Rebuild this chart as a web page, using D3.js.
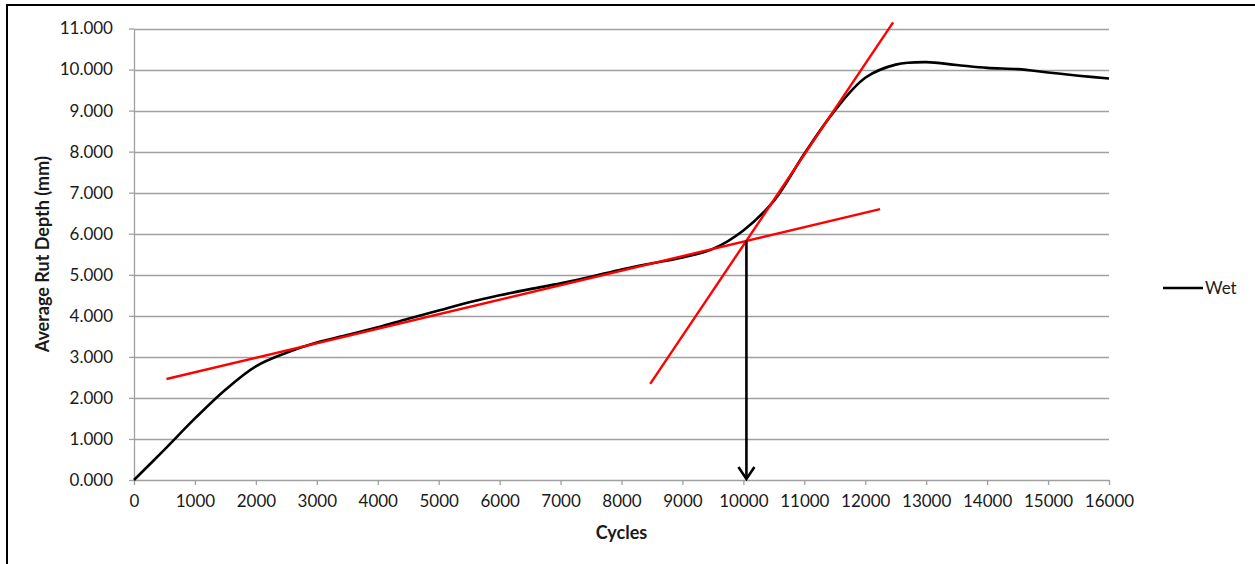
<!DOCTYPE html>
<html>
<head>
<meta charset="utf-8">
<script src="https://cdn.jsdelivr.net/npm/d3@7"></script>
<style>
  html, body { margin: 0; padding: 0; background: #fff; }
  svg { display: block; }
  text { font-family: Lato, "Open Sans", sans-serif; fill: #1a1a1a; }
</style>
</head>
<body>
<svg id="chart" width="1255" height="564"></svg>
<script>
// Rut depth measurements (wet test)
const cycles = [0, 500, 1000, 1500, 2000, 2500, 3000, 3500, 4000, 4500, 5000, 5500, 6000, 6500,
                7000, 7500, 8000, 8500, 9000, 9500, 10000, 10500, 11000, 11500, 12000, 12500,
                13000, 13500, 14000, 14500, 15000, 15500, 16000];
const depth  = [0, 0.74, 1.50, 2.20, 2.77, 3.10, 3.35, 3.53, 3.72, 3.93, 4.13, 4.33, 4.50, 4.65,
                4.79, 4.95, 5.13, 5.28, 5.42, 5.63, 6.08, 6.80, 7.95, 9.00, 9.80, 10.12,
                10.18, 10.11, 10.04, 10.01, 9.93, 9.85, 9.78];

// Tangent lines (secondary and tertiary phase), as [cycles, depth] end points
const tangentSecondary = [[533, 2.46], [12244, 6.60]];
const tangentTertiary  = [[8471, 2.34], [12457, 11.15]];

// Flow number marker: intersection of the tangents projected down to the axis
const flowArrow = [[10050, 5.83], [10050, 0]];

// Axis ticks
const xTicks = [0, 1000, 2000, 3000, 4000, 5000, 6000, 7000, 8000, 9000, 10000,
                11000, 12000, 13000, 14000, 15000, 16000];
const yTicks = [0, 1, 2, 3, 4, 5, 6, 7, 8, 9, 10, 11];

const seriesName = "Wet";
const xTitle = "Cycles";
const yTitle = "Average Rut Depth (mm)";

const svg = d3.select("#chart");
const gridColor = "#a0a0a0";

const x = d3.scaleLinear().domain([0, 16000]).range([134, 1109]);
const y = d3.scaleLinear().domain([0, 11]).range([480, 28.5]);

// Outer frame lines
svg.append("line").attr("x1", 7).attr("x2", 1255).attr("y1", 5).attr("y2", 5)
  .attr("stroke", "#000").attr("stroke-width", 2);
svg.append("line").attr("x1", 7).attr("x2", 7).attr("y1", 4).attr("y2", 564)
  .attr("stroke", "#000").attr("stroke-width", 2);

// Horizontal gridlines
svg.append("g")
  .selectAll("line")
  .data(yTicks.filter(d => d > 0))
  .join("line")
  .attr("x1", x(0)).attr("x2", x(16000))
  .attr("y1", d => Math.round(y(d)) + 0.5).attr("y2", d => Math.round(y(d)) + 0.5)
  .attr("stroke", gridColor).attr("stroke-width", 1.3);

// Y axis
const yAxis = svg.append("g")
  .attr("transform", `translate(${x(0)},0)`)
  .call(d3.axisLeft(y).tickValues(yTicks).tickFormat(d3.format(".3f"))
        .tickSize(5).tickSizeOuter(0).tickPadding(16));

// X axis
const xAxis = svg.append("g")
  .attr("transform", `translate(0,${y(0)})`)
  .call(d3.axisBottom(x).tickValues(xTicks).tickFormat(d => String(d))
        .tickSize(5).tickSizeOuter(0).tickPadding(10));

[yAxis, xAxis].forEach(g => {
  g.select(".domain").attr("stroke", gridColor).attr("stroke-width", 1.3);
  g.selectAll(".tick line").attr("stroke", gridColor).attr("stroke-width", 1.3);
  g.selectAll(".tick text")
    .attr("fill", "#1a1a1a")
    .style("font-family", "Lato, 'Open Sans', sans-serif")
    .style("font-size", "17px");
});

// Axis titles
svg.append("text")
  .attr("x", (x(0) + x(16000)) / 2)
  .attr("y", 539)
  .attr("text-anchor", "middle")
  .style("font-size", "18px")
  .style("font-weight", "bold")
  .text(xTitle);

svg.append("text")
  .attr("transform", `translate(49,${(y(0) + y(11)) / 2}) rotate(-90)`)
  .attr("text-anchor", "middle")
  .style("font-size", "18px")
  .style("font-weight", "bold")
  .text(yTitle);

// Measured rut depth curve
const series = cycles.map((c, i) => [c, depth[i]]);
const line = d3.line()
  .x(d => x(d[0]))
  .y(d => y(d[1]))
  .curve(d3.curveCatmullRom.alpha(0.5));

svg.append("path")
  .datum(series)
  .attr("fill", "none")
  .attr("stroke", "#000")
  .attr("stroke-width", 2.6)
  .attr("stroke-linejoin", "round")
  .attr("d", line);

// Tangent lines
const straight = d3.line().x(d => x(d[0])).y(d => y(d[1]));
[tangentSecondary, tangentTertiary].forEach(seg => {
  svg.append("path")
    .datum(seg)
    .attr("fill", "none")
    .attr("stroke", "#ff0000")
    .attr("stroke-width", 2.4)
    .attr("d", straight);
});

// Arrow down to the flow number
const ax = x(flowArrow[0][0]);
const aTop = y(flowArrow[0][1]);
const aTip = y(flowArrow[1][1]);
svg.append("line")
  .attr("x1", ax).attr("x2", ax)
  .attr("y1", aTop).attr("y2", aTip - 1)
  .attr("stroke", "#000").attr("stroke-width", 2.6);
svg.append("path")
  .attr("d", `M${ax - 8},${aTip - 13} L${ax},${aTip - 1} L${ax + 8},${aTip - 13}`)
  .attr("fill", "none")
  .attr("stroke", "#000")
  .attr("stroke-width", 2.6)
  .attr("stroke-linejoin", "miter");

// Legend
const legend = svg.append("g").attr("transform", "translate(1163,288)");
legend.append("line")
  .attr("x1", 0).attr("x2", 40).attr("y1", 0).attr("y2", 0)
  .attr("stroke", "#000").attr("stroke-width", 2.6);
legend.append("text")
  .attr("x", 42).attr("y", 0).attr("dy", "0.35em")
  .style("font-size", "17px")
  .text(seriesName);
</script>
</body>
</html>
